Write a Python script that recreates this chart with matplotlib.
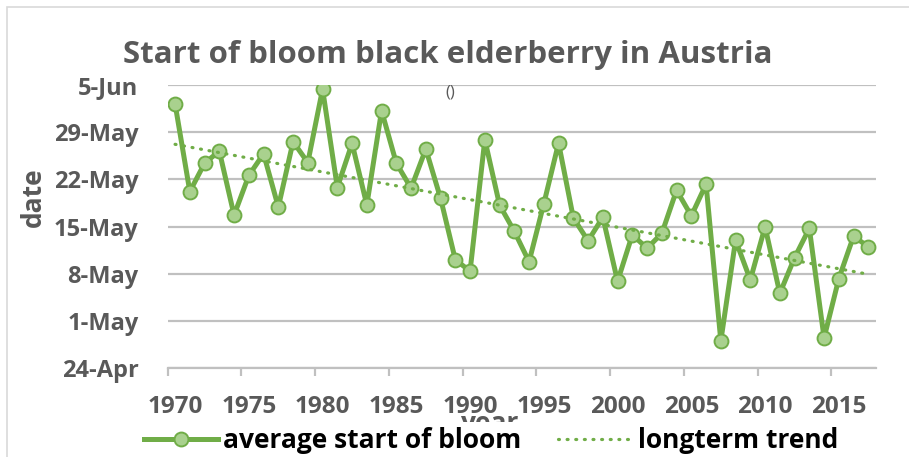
import datetime as dt
import numpy as np
import matplotlib
matplotlib.use('Agg')
import matplotlib.pyplot as plt
from matplotlib.ticker import FuncFormatter, FixedLocator
from matplotlib.patches import Rectangle

# jahre und mittlerer bluehbeginn (tag im jahr)
years = list(range(1970, 2018))
bloom_doy = [153.2, 140.2, 144.4, 146.2, 136.7, 142.6, 145.8, 137.9, 147.6, 144.5,
             155.4, 140.8, 147.35, 138.2, 152.2, 144.4, 140.7, 146.5, 139.2, 130.1,
             128.4, 147.9, 138.2, 134.3, 129.8, 138.4, 147.4, 136.3, 132.9, 136.4,
             126.9, 133.8, 131.8, 134.0, 140.4, 136.6, 141.3, 118.05, 133.0, 127.1,
             135.0, 125.1, 130.4, 134.75, 118.5, 127.3, 133.6, 132.0]
y_ticks = [114, 121, 128, 135, 142, 149, 156]
x_labels = list(range(1970, 2016, 5))

title = "Start of bloom black elderberry in Austria"
series_name = "average start of bloom"
trend_name = "longterm trend"

green = '#70AD47'
light_green = '#A9D18E'
grey_txt = '#595959'
grid_col = '#C0C0C0'

plt.rcParams['font.family'] = ['Open Sans', 'DejaVu Sans']

W, H = 909, 457
fig = plt.figure(figsize=(W / 100, H / 100), dpi=100)
ax = fig.add_axes([167.7 / W, 1 - 368.3 / H, (875.7 - 167.7) / W, (368.3 - 85) / H])

# rahmen des diagrammbereichs
fig.patches.append(Rectangle((7 / W, -0.1), 1.2, 1 - 7 / H + 0.1, transform=fig.transFigure,
                             fill=False, edgecolor='#D9D9D9', linewidth=1.2, zorder=0))

x = np.array(years)
y = np.array(bloom_doy)
coef = np.polyfit(x, y, 1)
trend = np.polyval(coef, x)

ax.plot(x, y, color=green, lw=3.6, marker='o', markersize=10,
        markerfacecolor=light_green, markeredgecolor=green, markeredgewidth=1.4,
        label=series_name, zorder=3, solid_joinstyle='round')
ax.plot(x, trend, color=green, lw=2.3, linestyle=(0, (0.3, 2.4)), dash_capstyle='round',
        label=trend_name, zorder=4)

ax.set_xlim(1969.5, 2017.5)
ax.set_ylim(114, 156)

def fmt_date(v, pos):
    d = dt.date(2001, 1, 1) + dt.timedelta(days=int(round(v)) - 1)
    return f"{d.day}-{d.strftime('%b')}"

ax.yaxis.set_major_locator(FixedLocator(y_ticks))
ax.yaxis.set_major_formatter(FuncFormatter(fmt_date))
ax.xaxis.set_major_locator(FixedLocator(x_labels))
ax.xaxis.set_minor_locator(FixedLocator([v - 0.5 for v in x_labels]))

ax.grid(axis='y', color=grid_col, lw=1.6, zorder=0)
for s in ['top', 'right', 'left']:
    ax.spines[s].set_visible(False)
ax.spines['bottom'].set_color(grid_col)
ax.spines['bottom'].set_linewidth(1.6)

ax.tick_params(axis='y', length=0, pad=21, labelsize=17, labelcolor=grey_txt)
ax.tick_params(axis='x', which='major', length=0, pad=19, labelsize=17.5, labelcolor=grey_txt)
ax.tick_params(axis='x', which='minor', length=6, width=1.6, color=grid_col)
for lab in ax.get_xticklabels() + ax.get_yticklabels():
    lab.set_fontweight('bold')

fig.text(448 / W, 1 - 63 / H, title, ha='center', va='baseline', fontsize=22.5,
         fontweight='bold', color=grey_txt)
fig.text(450 / W, 1 - 92 / H, "()", ha='center', va='center', fontsize=12, color=grey_txt)
fig.text(33 / W, 1 - 197 / H, "date", ha='center', va='center', rotation=90,
         fontsize=19, fontweight='bold', color=grey_txt)
fig.text(489 / W, 1 - 410 / H, "year", ha='center', va='top', fontsize=19,
         fontweight='bold', color=grey_txt, zorder=2)

# weisses feld der legende verdeckt den unteren teil von "year"
fig.patches.append(Rectangle((140 / W, 0), 720 / W, 1 - 422 / H, transform=fig.transFigure,
                             facecolor='white', edgecolor='none', zorder=4))

leg = fig.legend(loc='center', bbox_to_anchor=(491 / W, 1 - 441 / H), ncol=2,
                 frameon=False, fontsize=19, handlelength=2.8, columnspacing=1.4,
                 handletextpad=0.2, borderpad=0.2)
leg.set_zorder(5)
for t in leg.get_texts():
    t.set_fontweight('bold')
    t.set_color('black')

fig.savefig('out.png', dpi=100)
